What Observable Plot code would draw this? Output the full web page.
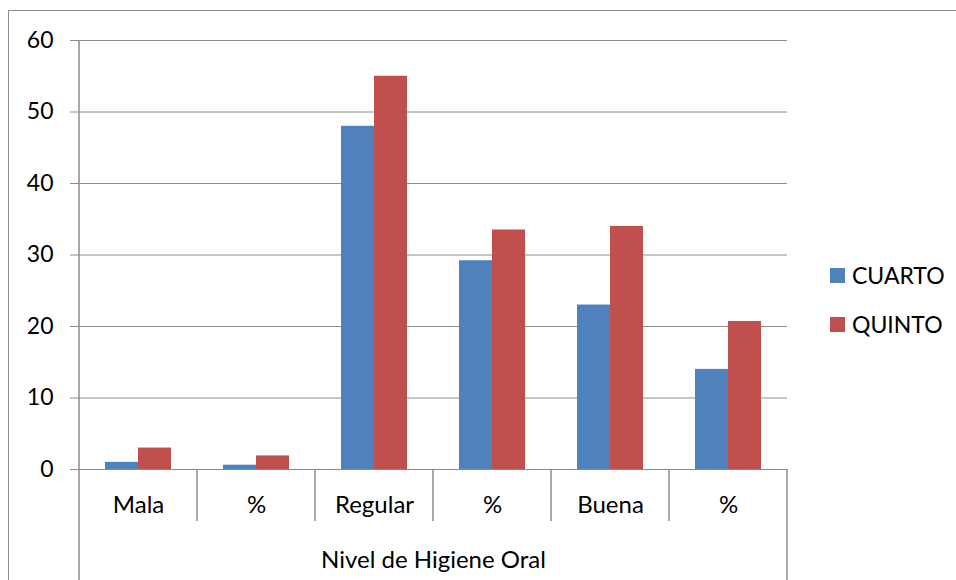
<!DOCTYPE html>
<html><head><meta charset="utf-8">
<script src="https://cdn.jsdelivr.net/npm/d3@7"></script>
<script src="https://cdn.jsdelivr.net/npm/@observablehq/plot@0.6"></script>
<style>
body{margin:0;background:#fff;font-family:Lato, sans-serif;}
#wrap{position:relative;width:956px;height:580px;overflow:hidden;background:#fff;}
#border{position:absolute;left:8px;top:10px;width:1000px;height:700px;border-left:1px solid #8c8c8c;border-top:1px solid #8c8c8c;}
#chart{position:absolute;left:0;top:0;}
#legend{position:absolute;left:830px;top:260px;font-size:23px;color:#000;}
.item{display:flex;align-items:center;height:30px;margin-bottom:19px;}
.sw{width:15px;height:15px;margin-right:7px;}
</style></head>
<body><div id="wrap"><div id="border"></div><div id="chart"></div><div id="legend"></div></div>
<script>
const categories = ["Mala", "%", "Regular", "%", "Buena", "%"];
const series = ["CUARTO", "QUINTO"];
const cuarto = [1, 0.6, 48, 29.2, 23, 14];
const quinto = [3, 1.9, 55, 33.5, 34, 20.7];
const colors = ["#4F81BD", "#C0504D"];
const yTicks = [0, 10, 20, 30, 40, 50, 60];
const axisTitle = "Nivel de Higiene Oral";

const data = categories.flatMap((c, i) => [
  {i, serie: series[0], value: cuarto[i]},
  {i, serie: series[1], value: quinto[i]}
]);

const gridColor = "#8c8c8c";

const plot = Plot.plot({
  width: 956, height: 580,
  marginLeft: 79, marginRight: 169, marginTop: 40, marginBottom: 111,
  style: {fontFamily: "Lato", fontSize: "24px", color: "#000", background: "transparent", overflow: "visible"},
  fx: {domain: d3.range(categories.length), padding: 0, axis: null},
  x: {domain: series, paddingInner: 0, paddingOuter: 0.75, axis: null},
  y: {domain: [0, 60], axis: null},
  color: {domain: series, range: colors},
  marks: [
    Plot.gridY(yTicks, {stroke: gridColor, strokeOpacity: 1}),
    Plot.barY(data, {fx: "i", x: "serie", y: "value", fill: "serie"}),
    Plot.axisY(yTicks, {anchor: "left", label: null, tickSize: 9, tickPadding: 17, stroke: gridColor, fill: "#000", fontSize: 23}),
    Plot.axisFx({anchor: "bottom", tickSize: 0, tickPadding: 26, tickFormat: i => categories[i], fontSize: 24, fill: "#000",
      label: axisTitle, labelAnchor: "center", labelOffset: 98})
  ]
});

document.getElementById("chart").appendChild(plot);

// axis lines and category separators, placed with the plot's own scales
const fx = plot.scale("fx"), y = plot.scale("y");
const svg = d3.select(plot);
const g = svg.append("g").attr("stroke", gridColor).attr("stroke-width", 1.5);
const y0 = y.apply(0), yTop = y.apply(yTicks[yTicks.length - 1]);
const H = 580;
const n = categories.length;
for (let k = 0; k <= n; k++) {
  const xx = k < n ? fx.apply(k) : fx.apply(n - 1) + fx.bandwidth;
  const outer = k === 0 || k === n;
  const top = k === 0 ? yTop : y0;
  const bottom = outer ? H : y0 + 52;
  g.append("line").attr("x1", xx).attr("x2", xx).attr("y1", top).attr("y2", bottom);
}

// legend
const legend = d3.select("#legend");
series.forEach((s, k) => {
  const it = legend.append("div").attr("class", "item");
  it.append("div").attr("class", "sw").style("background", colors[k]);
  it.append("span").text(s);
});
</script>
</body></html>
